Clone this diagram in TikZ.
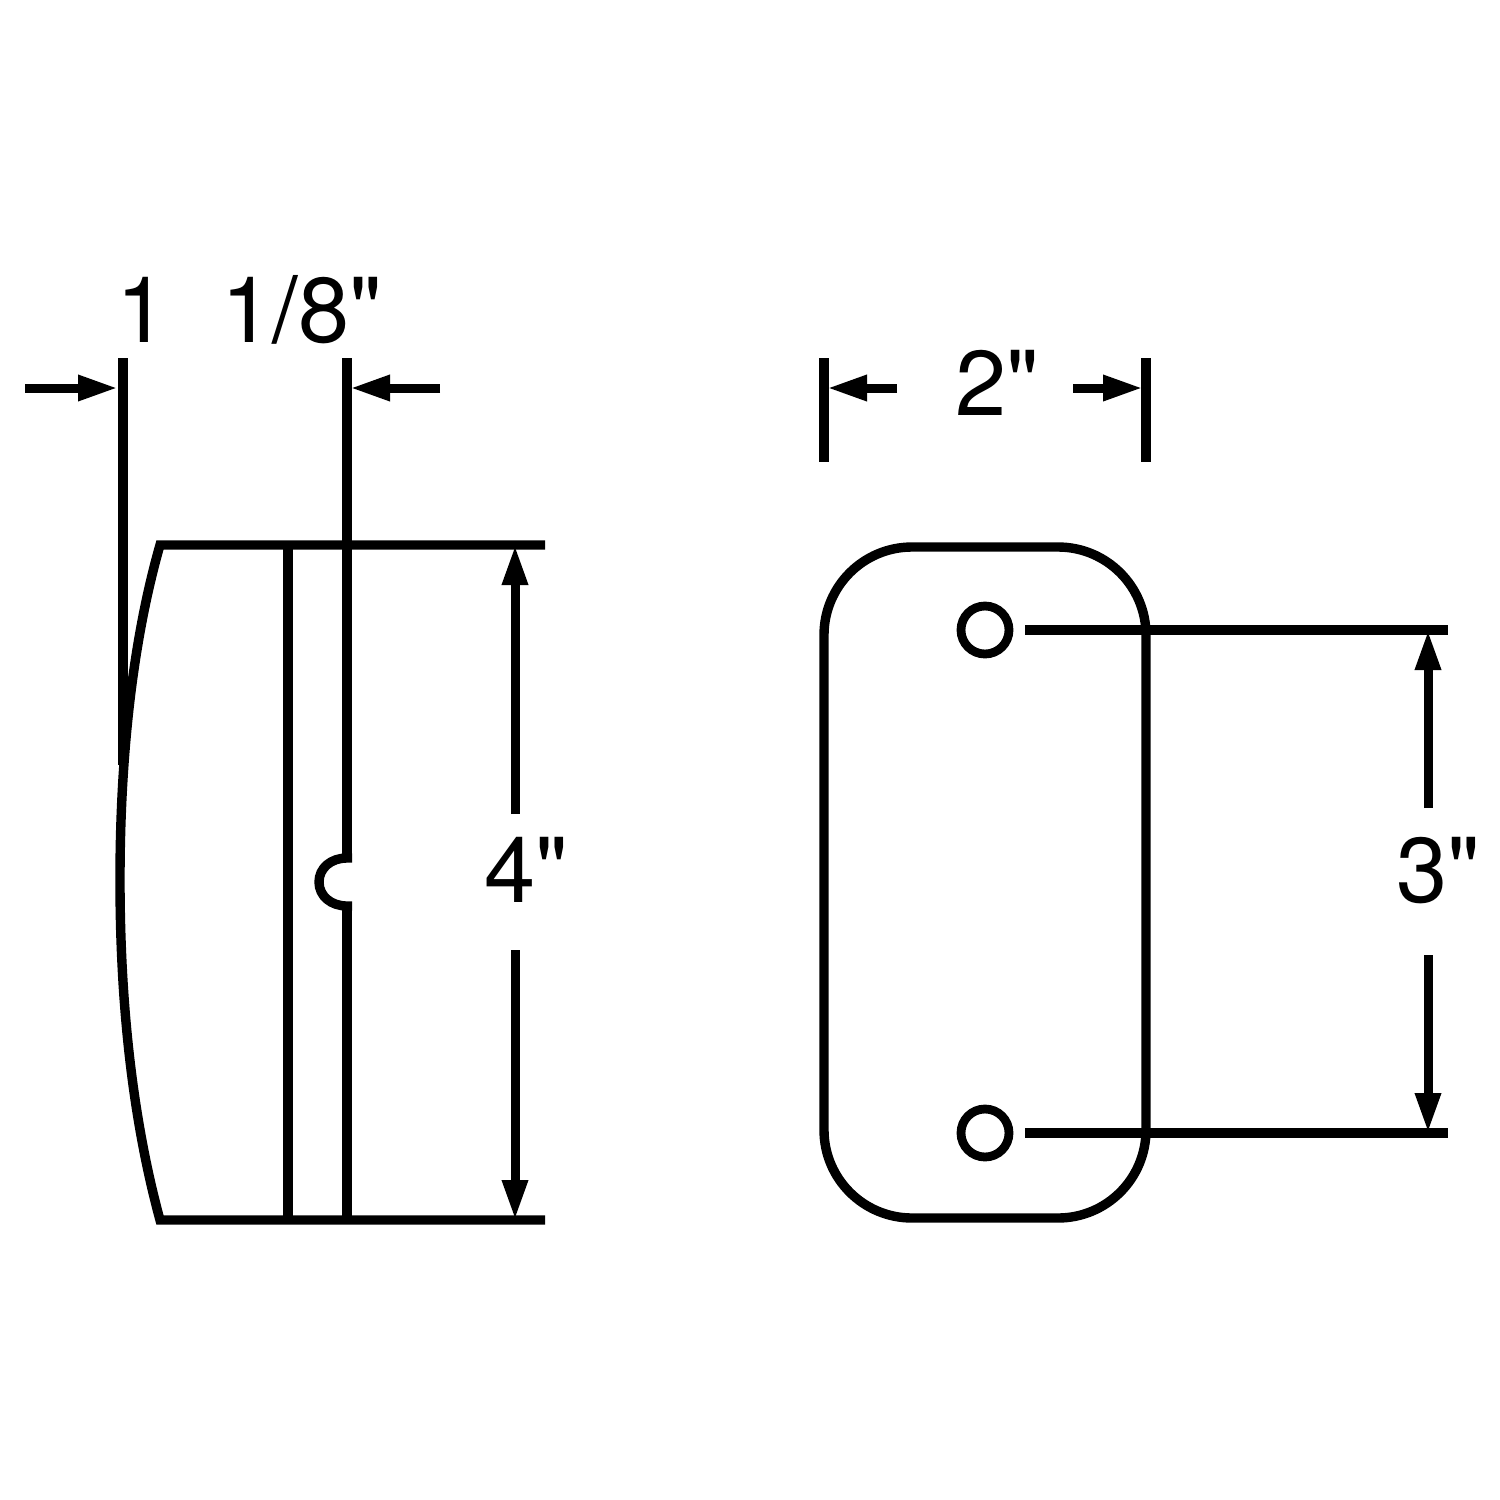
\documentclass[tikz,border=0pt]{standalone}
\usepackage{fontspec}
\newfontfamily\hv{TeX Gyre Heros}
\usetikzlibrary{arrows.meta}
\tikzset{
  ln/.style={line width=4.7pt,line cap=butt,black},
  dim/.style={line width=4.5pt,black,-{Triangle[length=20pt,width=12pt]}},
  lbl/.style={inner sep=0pt,anchor=base,font=\hv\fontsize{46}{46}\selectfont,text=black}
}
\begin{document}
\begin{tikzpicture}[x=0.5pt,y=-0.5pt]
\useasboundingbox (0,0) rectangle (1500,1500);
% left view
\draw[ln] (123,358) -- (123,765);
\draw[ln] (545,545) -- (160,545) .. controls (130,650) and (120,770) .. (120,880)
          .. controls (120,990) and (130,1110) .. (160,1220) -- (545,1220);
\draw[ln] (288,545) -- (288,1220);
\draw[ln] (347,358) -- (347,862);
\draw[ln] (352,858) -- (347,858) .. controls (331,858) and (319,868) .. (319,882) .. controls (319,896) and (331,906) .. (347,906) -- (352,906);
\draw[ln] (347,902) -- (347,1220);
% left dimensions
\coordinate (a1) at (25,388); \coordinate (a2) at (118,388);
\coordinate (b1) at (440,388); \coordinate (b2) at (350,388);
\draw[dim] (a1) -- (a2);
\draw[dim] (b1) -- (b2);
\node[lbl] (t1) at (142,342) {1};
\node[lbl] (t18) at (302,342) {1/8"};
\coordinate (c1) at (515,814); \coordinate (c2) at (515,545);
\coordinate (c3) at (515,950); \coordinate (c4) at (515,1220);
\draw[dim] (c1) -- (c2);
\draw[dim] (c3) -- (c4);
\node[lbl] (t4) at (526,902) {4"};
% right view
\draw[ln] (824,358) -- (824,462);
\draw[ln] (1146,358) -- (1146,462);
\coordinate (d1) at (897,388); \coordinate (d2) at (827,388);
\coordinate (e1) at (1073,388); \coordinate (e2) at (1143,388);
\draw[dim] (d1) -- (d2);
\draw[dim] (e1) -- (e2);
\node[lbl] (t2) at (997,415) {2"};
\draw[ln,rounded corners=44pt] (824,547) rectangle (1146,1218);
\node[circle,draw,line width=4.4pt,minimum size=24pt,inner sep=0pt] (h1) at (985,630) {};
\node[circle,draw,line width=4.4pt,minimum size=24pt,inner sep=0pt] (h2) at (985,1133) {};
\draw[ln] (1025,630) -- (1448,630);
\draw[ln] (1025,1133) -- (1448,1133);
\coordinate (f1) at (1428,808); \coordinate (f2) at (1428,630);
\coordinate (f3) at (1428,955); \coordinate (f4) at (1428,1133);
\draw[dim] (f1) -- (f2);
\draw[dim] (f3) -- (f4);
\node[lbl] (t3) at (1438,902) {3"};
\end{tikzpicture}
\end{document}
